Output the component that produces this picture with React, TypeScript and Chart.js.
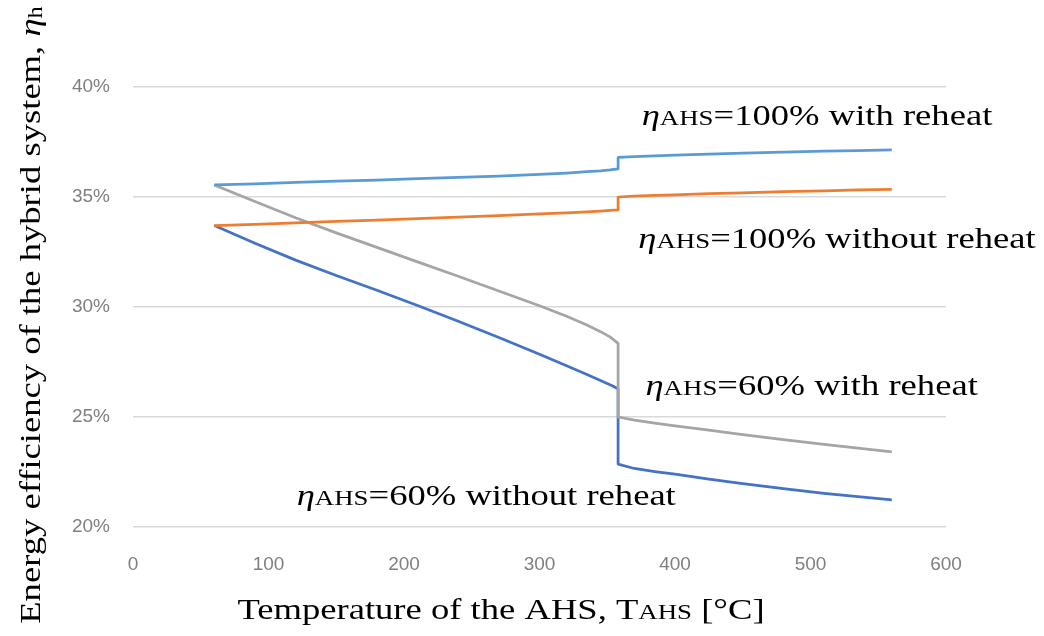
import React, { useEffect, useRef } from "react";
import { Chart, registerables } from "chart.js";

Chart.register(...registerables);

// Temperature of the AHS [°C] (jump at ~358 °C appears as a duplicated x)
const temperatures = [60, 90, 120, 150, 180, 210, 240, 270, 300, 320, 335, 345, 352, 358, 358, 370, 385, 400, 425, 450, 480, 510, 535, 560];

// Energy efficiency of the hybrid system [%]
const eta100WithReheat = [35.55, 35.6, 35.66, 35.72, 35.77, 35.83, 35.89, 35.95, 36.03, 36.09, 36.15, 36.19, 36.23, 36.28, 36.8, 36.84, 36.87, 36.9, 36.95, 36.99, 37.04, 37.08, 37.11, 37.14];
const eta100WithoutReheat = [33.7, 33.76, 33.82, 33.89, 33.95, 34.02, 34.08, 34.15, 34.23, 34.28, 34.32, 34.36, 34.39, 34.42, 35.0, 35.04, 35.07, 35.1, 35.15, 35.19, 35.24, 35.28, 35.32, 35.35];
const eta60WithReheat = [35.55, 34.8, 34.06, 33.37, 32.71, 32.05, 31.4, 30.73, 30.06, 29.58, 29.18, 28.88, 28.64, 28.35, 25.0, 24.86, 24.72, 24.6, 24.4, 24.2, 23.97, 23.76, 23.59, 23.42];
const eta60WithoutReheat = [33.7, 32.9, 32.13, 31.43, 30.76, 30.07, 29.35, 28.61, 27.85, 27.33, 26.93, 26.66, 26.47, 26.28, 22.86, 22.66, 22.52, 22.4, 22.18, 21.97, 21.74, 21.53, 21.38, 21.23];

const seriesColors = ["#5B9BD5", "#ED7D31", "#A5A5A5", "#4472C4"];

// x-axis ticks
const xTickMin = 0;
const xTickMax = 600;
const xTickStep = 100;
// y-axis ticks (percent)
const yTickMin = 20;
const yTickMax = 40;
const yTickStep = 5;

// In-chart labels: text after "ηAHS", anchored (left, baseline) in data coordinates
const labelTails = ["=100% with reheat", "=100% without reheat", "=60% with reheat", "=60% without reheat"];
const labelT = [375.4, 372.9, 378.2, 120.8];
const labelEta = [38.27, 32.68, 26.0, 21.0];

type Seg = { t: string; size?: number; italic?: boolean; dy?: number };

const SERIF = '"Liberation Serif", "Times New Roman", serif';
const BASE = 30;
const STRETCH = 1.22;

function fontOf(s: Seg) {
  return `${s.italic ? "italic " : ""}${s.size ?? BASE}px ${SERIF}`;
}

function drawRich(
  ctx: CanvasRenderingContext2D,
  segs: Seg[],
  x: number,
  y: number,
  align: "left" | "center",
  rotate = 0
) {
  ctx.save();
  ctx.textBaseline = "alphabetic";
  ctx.textAlign = "left";
  ctx.fillStyle = "#000";
  let total = 0;
  const widths: number[] = [];
  for (const s of segs) {
    ctx.font = fontOf(s);
    const w = ctx.measureText(s.t).width;
    widths.push(w);
    total += w;
  }
  ctx.translate(x, y);
  if (rotate) ctx.rotate(rotate);
  ctx.scale(STRETCH, 1);
  let cx = align === "center" ? -total / 2 : 0;
  segs.forEach((s, i) => {
    ctx.font = fontOf(s);
    ctx.fillText(s.t, cx, s.dy ?? 0);
    cx += widths[i];
  });
  ctx.restore();
}

const textPlugin = {
  id: "textPlugin",
  afterDraw(chart: any) {
    const ctx: CanvasRenderingContext2D = chart.ctx;
    const xs = chart.scales.x;
    const ys = chart.scales.y;
    labelTails.forEach((tail, i) => {
      const px = xs.getPixelForValue(labelT[i]);
      const py = ys.getPixelForValue(labelEta[i]);
      drawRich(
        ctx,
        [{ t: "η", italic: true }, { t: "AHS", size: 22 }, { t: tail }],
        px,
        py,
        "left"
      );
    });
    // x-axis title
    drawRich(
      ctx,
      [{ t: "Temperature of the AHS, T" }, { t: "AHS", size: 22 }, { t: " [°C]" }],
      501,
      619,
      "center"
    );
    // y-axis title
    drawRich(
      ctx,
      [{ t: "Energy efficiency of the hybrid system, " }, { t: "η", italic: true }, { t: "h", size: 20, dy: 2 }],
      40,
      315,
      "center",
      -Math.PI / 2
    );
  },
};

export default function App() {
  const canvasRef = useRef<HTMLCanvasElement | null>(null);

  useEffect(() => {
    const canvas = canvasRef.current;
    if (!canvas) return;
    const allSeries = [eta100WithReheat, eta100WithoutReheat, eta60WithReheat, eta60WithoutReheat];
    const chart = new Chart(canvas, {
      type: "line",
      data: {
        datasets: allSeries.map((vals, si) => ({
          label: labelTails[si],
          data: temperatures.map((t, i) => ({ x: t, y: vals[i] })),
          borderColor: seriesColors[si],
          backgroundColor: seriesColors[si],
          borderWidth: 2.75,
          pointRadius: 0,
          tension: 0,
          borderJoinStyle: "round",
          fill: false,
        })),
      },
      options: {
        animation: false,
        responsive: false,
        devicePixelRatio: 1,
        layout: { padding: { left: 0, right: 98, top: 87, bottom: 0 } },
        plugins: {
          legend: { display: false },
          tooltip: { enabled: false },
        },
        scales: {
          x: {
            type: "linear",
            min: xTickMin,
            max: xTickMax,
            ticks: {
              stepSize: xTickStep,
              padding: 26,
              color: "#7f7f7f",
              maxRotation: 0,
              font: { family: '"Liberation Sans", Arial, sans-serif', size: 19 },
            },
            grid: { display: false, drawTicks: false },
            border: { display: false },
            afterFit(scale: any) {
              scale.height = 109;
            },
          },
          y: {
            type: "linear",
            min: yTickMin,
            max: yTickMax,
            ticks: {
              stepSize: yTickStep,
              padding: 23,
              color: "#7f7f7f",
              font: { family: '"Liberation Sans", Arial, sans-serif', size: 19 },
              callback: (v: any) => `${v}%`,
            },
            grid: { color: "#d9d9d9", lineWidth: 1.5, drawTicks: false },
            border: { display: false },
            afterFit(scale: any) {
              scale.width = 133;
            },
          },
        },
      } as any,
      plugins: [textPlugin],
    });
    return () => chart.destroy();
  }, []);

  return (
    <div style={{ position: "absolute", left: 0, top: 0, width: 1044, height: 636, background: "#fff" }}>
      <canvas ref={canvasRef} width={1044} height={636} style={{ display: "block" }} />
    </div>
  );
}
